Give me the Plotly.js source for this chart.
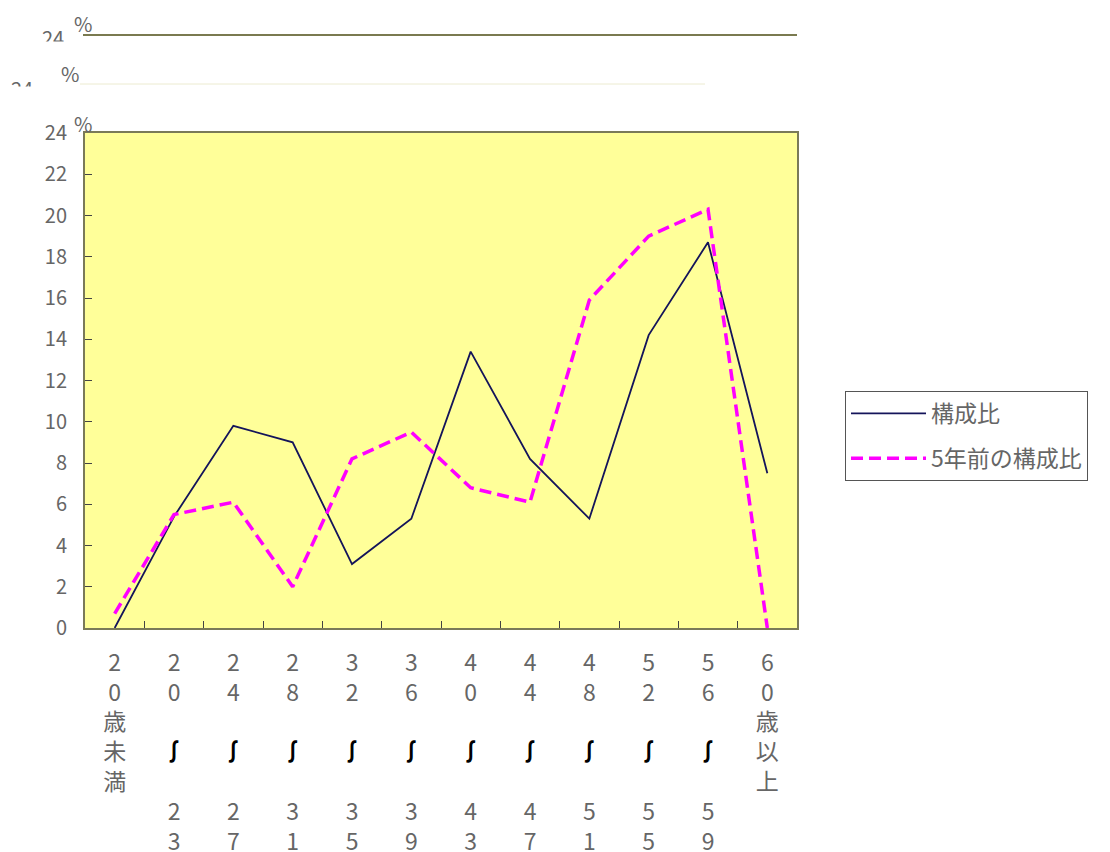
<!DOCTYPE html>
<html>
<head>
<meta charset="utf-8">
<script src="https://cdn.plot.ly/plotly-3.0.1.min.js"></script>
<style>
  html, body { margin: 0; padding: 0; background: #fff; }
  #chart { width: 1110px; height: 852px; }
</style>
</head>
<body>
<div id="chart"></div>
<script>
// ---- data ----
const categories = ['20歳未満', '20～23', '24～27', '28～31', '32～35', '36～39',
                    '40～43', '44～47', '48～51', '52～55', '56～59', '60歳以上'];
const tickLabels = [
  '2<br>0<br>歳<br>未<br>満',
  '2<br>0<br>\u00a0<br>∫<br>\u00a0<br>2<br>3',
  '2<br>4<br>\u00a0<br>∫<br>\u00a0<br>2<br>7',
  '2<br>8<br>\u00a0<br>∫<br>\u00a0<br>3<br>1',
  '3<br>2<br>\u00a0<br>∫<br>\u00a0<br>3<br>5',
  '3<br>6<br>\u00a0<br>∫<br>\u00a0<br>3<br>9',
  '4<br>0<br>\u00a0<br>∫<br>\u00a0<br>4<br>3',
  '4<br>4<br>\u00a0<br>∫<br>\u00a0<br>4<br>7',
  '4<br>8<br>\u00a0<br>∫<br>\u00a0<br>5<br>1',
  '5<br>2<br>\u00a0<br>∫<br>\u00a0<br>5<br>5',
  '5<br>6<br>\u00a0<br>∫<br>\u00a0<br>5<br>9',
  '6<br>0<br>歳<br>以<br>上'
];
const composition      = [0, 5.4, 9.8, 9.0, 3.1, 5.3, 13.4, 8.2, 5.3, 14.2, 18.7, 7.5];
const composition5yAgo = [0.7, 5.5, 6.1, 2.0, 8.2, 9.5, 6.8, 6.1, 15.9, 19.0, 20.3, 0];
const seriesNames = ['構成比', '5年前の構成比'];
const yTicks = [0, 2, 4, 6, 8, 10, 12, 14, 16, 18, 20, 22, 24];

// ---- styling ----
const FONT = 'Noto Sans CJK JP, Noto Sans, sans-serif';
const GRAY = '#666666';
const BORDER = '#7a7a58';

const styledTicks = tickLabels.map(t => t.replace('∫', "<span style='color:#000'><b>∫</b></span>"));

const traces = [
  { x: categories, y: composition, name: seriesNames[0], type: 'scatter', mode: 'lines',
    line: { color: '#14145a', width: 1.8 }, legendgroup: 'a' },
  { x: categories, y: composition5yAgo, name: seriesNames[1], type: 'scatter', mode: 'lines',
    line: { color: '#ff00ff', width: 3.5, dash: '12px,6px' }, legendgroup: 'b' }
];

const layout = {
  width: 1110, height: 852,
  margin: { l: 85, r: 313, t: 133, b: 224 },
  paper_bgcolor: '#ffffff', plot_bgcolor: '#ffff99',
  font: { family: FONT, color: GRAY },
  xaxis: {
    type: 'category', tickmode: 'array', tickvals: categories, ticktext: styledTicks,
    tickson: 'boundaries', ticks: 'inside', ticklen: 7, tickcolor: '#444', tickwidth: 1,
    showline: true, linecolor: BORDER, linewidth: 2, mirror: true,
    showgrid: false, zeroline: false,
    tickfont: { size: 23, color: GRAY, family: FONT },
    tickangle: 0, ticklabelstandoff: 13, range: [-0.5, 11.5]
  },
  yaxis: {
    range: [0, 24], tickmode: 'array', tickvals: yTicks,
    ticks: 'inside', ticklen: 7, tickcolor: '#444', tickwidth: 1,
    showline: true, linecolor: BORDER, linewidth: 2, mirror: true,
    showgrid: false, zeroline: false,
    tickfont: { size: 20, color: GRAY, family: FONT }, ticklabelstandoff: 12
  },
  showlegend: true,
  legend: {
    x: (845 - 85) / 712, xanchor: 'left', y: 0.388, yanchor: 'middle',
    bgcolor: '#ffffff', bordercolor: '#555555', borderwidth: 1,
    font: { size: 23, color: GRAY, family: FONT },
    itemwidth: 75, traceorder: 'grouped', tracegroupgap: 12
  },
  annotations: [
    { text: '%', xref: 'paper', yref: 'paper', x: -0.003, y: (628 - 123) / 495,
      showarrow: false, font: { size: 20, color: GRAY, family: FONT }, xanchor: 'center', yanchor: 'middle' },
    // ghost header artefacts from the source image
    { text: '%', xref: 'paper', yref: 'paper', x: -0.003, y: (628 - 24) / 495,
      showarrow: false, font: { size: 20, color: GRAY, family: FONT }, xanchor: 'center', yanchor: 'middle' },
    { text: '24', xref: 'paper', yref: 'paper', x: (53 - 85) / 712, y: (628 - 37) / 495,
      showarrow: false, font: { size: 20, color: GRAY, family: FONT }, xanchor: 'center', yanchor: 'middle' },
    { text: '%', xref: 'paper', yref: 'paper', x: (70 - 85) / 712, y: (628 - 73) / 495,
      showarrow: false, font: { size: 20, color: GRAY, family: FONT }, xanchor: 'center', yanchor: 'middle' },
    { text: '24', xref: 'paper', yref: 'paper', x: (22 - 85) / 712, y: (628 - 88) / 495,
      showarrow: false, font: { size: 20, color: GRAY, family: FONT }, xanchor: 'center', yanchor: 'middle' },
    // white masks clipping the ghost labels
    { text: ' ', xref: 'paper', yref: 'paper', x: (50 - 85) / 712, y: (628 - 41) / 495,
      showarrow: false, bgcolor: '#ffffff', width: 70, height: 14, xanchor: 'center', yanchor: 'top',
      font: { size: 8 } },
    { text: ' ', xref: 'paper', yref: 'paper', x: (30 - 85) / 712, y: (628 - 86) / 495,
      showarrow: false, bgcolor: '#ffffff', width: 60, height: 20, xanchor: 'center', yanchor: 'top',
      font: { size: 8 } }
  ],
  shapes: [
    { type: 'line', xref: 'paper', yref: 'paper', x0: (83 - 85) / 712, x1: 1, y0: (628 - 35) / 495, y1: (628 - 35) / 495,
      line: { color: '#7a7a50', width: 2 } },
    { type: 'line', xref: 'paper', yref: 'paper', x0: (80 - 85) / 712, x1: (705 - 85) / 712, y0: (628 - 84) / 495, y1: (628 - 84) / 495,
      line: { color: '#ecebd0', width: 1 } }
  ]
};

Plotly.newPlot('chart', traces, layout, { displayModeBar: false, staticPlot: true });
</script>
</body>
</html>
